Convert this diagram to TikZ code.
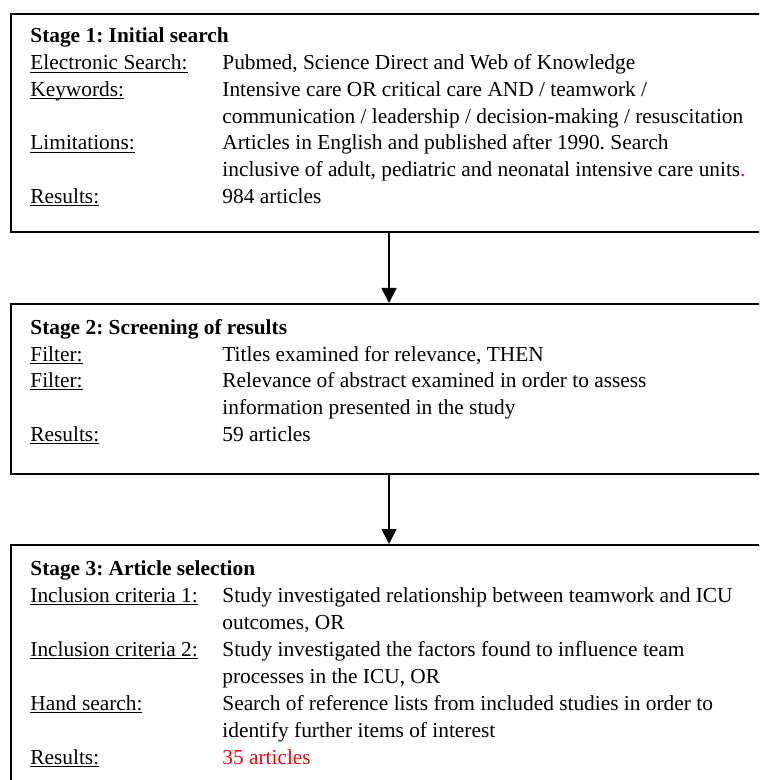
\documentclass[tikz,border=0pt]{standalone}
\usepackage{fontspec}
\setmainfont{Liberation Serif}
\usetikzlibrary{arrows.meta}
\frenchspacing

% underline at a fixed depth under the baseline
\newcommand{\lineunder}[1]{\setbox0\hbox{#1}\rlap{\rule[-1.3pt]{\wd0}{0.5pt}}\box0}

\tikzset{
  stagebox/.style={draw, line width=1pt, anchor=north west, inner sep=0pt, minimum width=378pt},
  lab/.style={anchor=base west, inner sep=0pt},
  txt/.style={anchor=base west, inner sep=0pt},
  flow/.style={line width=0.75pt, -{Triangle[width=7.5pt,length=7.5pt]}},
}

\begin{document}
\begin{tikzpicture}[x=0.5pt, y=-0.5pt, font=\fontsize{10.68}{13.4}\selectfont]
    \useasboundingbox (0,0) rectangle (759,780);
    \clip (0,0) rectangle (759,780);

    % Stage 1 box
    \node[stagebox, minimum height=109pt] (stage1) at (10,13) {};
    \node[lab] (s1title) at (30,43) {\textbf{Stage 1: Initial search}};
    \node[lab] (s1lab1) at (30,70) {\lineunder{Electronic Search:}};
    \node[txt] (s1txt1) at (222,70) {Pubmed, Science Direct and Web of Knowledge};
    \node[lab] (s1lab2) at (30,96.7) {\lineunder{Keywords:}};
    \node[txt] (s1txt2) at (222,96.7) {Intensive care OR critical care AND / teamwork /};
    \node[txt] (s1txt3) at (222,123.3) {communication / leadership / decision-making / resuscitation};
    \node[lab] (s1lab3) at (30,150) {\lineunder{Limitations:}};
    \node[txt] (s1txt4) at (222,150) {Articles in English and published after 1990. Search};
    \node[txt] (s1txt5) at (222,176.7) {inclusive of adult, pediatric and neonatal intensive care units\textcolor{red}{.}};
    \node[lab] (s1lab4) at (30,203.3) {\lineunder{Results:}};
    \node[txt] (s1txt6) at (222,203.3) {984 articles};

    % Stage 2 box
    \node[stagebox, minimum height=85pt] (stage2) at (10,303) {};
    \node[lab] (s2title) at (30,334) {\textbf{Stage 2: Screening of results}};
    \node[lab] (s2lab1) at (30,361) {\lineunder{Filter:}};
    \node[txt] (s2txt1) at (222,361) {Titles examined for relevance, THEN};
    \node[lab] (s2lab2) at (30,387.7) {\lineunder{Filter:}};
    \node[txt] (s2txt2) at (222,387.7) {Relevance of abstract examined in order to assess};
    \node[txt] (s2txt3) at (222,414.3) {information presented in the study};
    \node[lab] (s2lab3) at (30,441) {\lineunder{Results:}};
    \node[txt] (s2txt4) at (222,441) {59 articles};

    % Stage 3 box
    \node[stagebox, minimum height=125pt] (stage3) at (10,544) {};
    \node[lab] (s3title) at (30,575) {\textbf{Stage 3: Article selection}};
    \node[lab] (s3lab1) at (30,602) {\lineunder{Inclusion criteria 1:}};
    \node[txt] (s3txt1) at (222,602) {Study investigated relationship between teamwork and ICU};
    \node[txt] (s3txt2) at (222,629) {outcomes, OR};
    \node[lab] (s3lab2) at (30,656) {\lineunder{Inclusion criteria 2:}};
    \node[txt] (s3txt3) at (222,656) {Study investigated the factors found to influence team};
    \node[txt] (s3txt4) at (222,683) {processes in the ICU, OR};
    \node[lab] (s3lab3) at (30,710) {\lineunder{Hand search:}};
    \node[txt] (s3txt5) at (222,710) {Search of reference lists from included studies in order to};
    \node[txt] (s3txt6) at (222,737) {identify further items of interest};
    \node[lab] (s3lab4) at (30,764) {\lineunder{Results:}};
    \node[txt] (s3txt7) at (222,764) {\textcolor{red}{35 articles}};

    % arrows between stages
    \draw[flow] (stage1.south) -- (stage2.north);
    \draw[flow] (stage2.south) -- (stage3.north);
\end{tikzpicture}
\end{document}
